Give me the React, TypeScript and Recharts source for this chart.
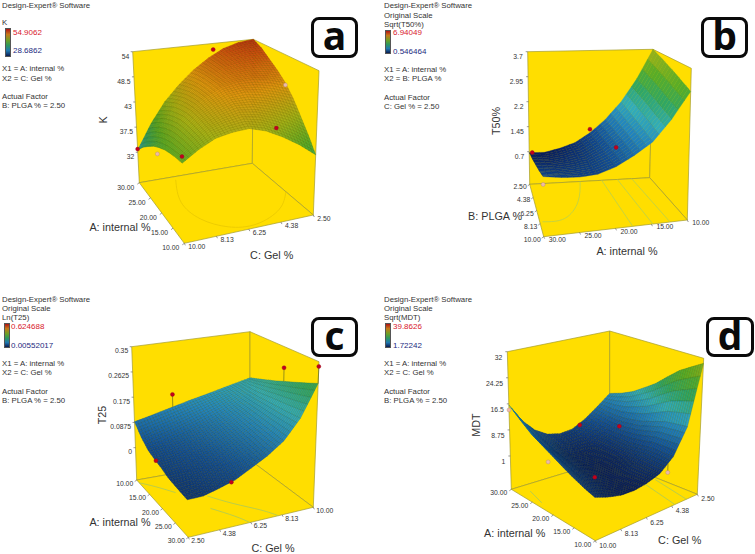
import { ScatterChart, Scatter, XAxis, YAxis } from 'recharts'

const internalDown = [30, 27.5, 25, 22.5, 20, 17.5, 15, 12.5, 10]
const internalUp = [10, 12.5, 15, 17.5, 20, 22.5, 25, 27.5, 30]
const gelDown = [10, 9.06, 8.13, 7.19, 6.25, 5.31, 4.38, 3.44, 2.5]
const gelUp = [2.5, 3.44, 4.38, 5.31, 6.25, 7.19, 8.13, 9.06, 10]
const plgaUp = [2.5, 3.44, 4.38, 5.31, 6.25, 7.19, 8.13, 9.06, 10]

// heights, one row per second-axis level
const kValues = [
  [32.5, 34.5, 36, 37.3, 38.2, 38.9, 39.3, 39.6, 39.7],
  [37.8, 39.3, 40.5, 41.3, 41.9, 42.1, 42.1, 42, 41.7],
  [42.2, 43.2, 44.1, 44.6, 44.9, 44.8, 44.4, 44, 43.3],
  [45.6, 46.3, 46.8, 47, 47, 46.5, 45.8, 45, 44],
  [48.5, 48.9, 49, 48.9, 48.6, 47.8, 46.8, 45.6, 44.3],
  [50.8, 50.7, 50.5, 50, 49.4, 48.2, 46.7, 45.1, 43.4],
  [52.6, 52, 51.4, 50.5, 49.5, 47.8, 45.9, 43.9, 41.8],
  [53.6, 52.7, 51.7, 50.4, 49, 46.9, 44.7, 42.3, 39.8],
  [54, 52.9, 51.3, 49.8, 48, 45.7, 42.9, 40.2, 37.3],
]
const t50Values = [
  [0.67, 0.74, 0.8, 0.87, 0.93, 1.0, 1.06, 1.13, 1.19],
  [0.66, 0.72, 0.78, 0.84, 0.9, 0.95, 1.01, 1.07, 1.13],
  [0.76, 0.8, 0.85, 0.89, 0.93, 0.97, 1.02, 1.06, 1.1],
  [0.91, 0.94, 0.96, 0.99, 1.02, 1.05, 1.08, 1.1, 1.13],
  [1.19, 1.2, 1.21, 1.22, 1.24, 1.25, 1.26, 1.27, 1.28],
  [1.58, 1.57, 1.57, 1.56, 1.56, 1.55, 1.54, 1.54, 1.53],
  [2.1, 2.07, 2.04, 2.0, 1.97, 1.94, 1.91, 1.87, 1.84],
  [2.8, 2.75, 2.7, 2.65, 2.6, 2.54, 2.49, 2.44, 2.39],
  [3.7, 3.62, 3.55, 3.47, 3.4, 3.32, 3.24, 3.17, 3.09],
]
const t25Values = [
  [0.09, 0.056, 0.034, 0.024, 0.017, 0.007, 0.003, 0, -0.003],
  [0.101, 0.072, 0.047, 0.036, 0.026, 0.017, 0.009, 0.003, -0.002],
  [0.113, 0.086, 0.063, 0.052, 0.042, 0.032, 0.024, 0.017, 0.011],
  [0.125, 0.101, 0.08, 0.069, 0.059, 0.049, 0.04, 0.033, 0.026],
  [0.137, 0.117, 0.099, 0.09, 0.082, 0.073, 0.065, 0.058, 0.052],
  [0.148, 0.133, 0.119, 0.111, 0.104, 0.097, 0.091, 0.085, 0.08],
  [0.16, 0.15, 0.141, 0.136, 0.132, 0.128, 0.124, 0.12, 0.117],
  [0.172, 0.171, 0.17, 0.171, 0.173, 0.174, 0.175, 0.177, 0.179],
  [0.184, 0.196, 0.208, 0.22, 0.233, 0.245, 0.257, 0.269, 0.281],
]
const mdtValues = [
  [16.2, 13.4, 10.9, 9.2, 7.6, 6, 4.6, 3.4, 2.5],
  [10.6, 8.3, 6.4, 5.2, 4.2, 3.2, 2.4, 1.7, 1.2],
  [6.8, 4.9, 3.4, 2.6, 1.9, 1.4, 1.0, 0.6, 0.3],
  [4.5, 2.8, 1.6, 1.1, 0.7, 0.6, 0.5, 0.3, 0.1],
  [3.6, 2.2, 1.1, 0.8, 0.6, 0.7, 0.9, 0.8, 0.7],
  [4, 2.8, 1.8, 1.6, 1.5, 1.8, 2.2, 2.2, 2],
  [6, 5, 4.2, 4.2, 4.3, 4.8, 5.4, 5.4, 5.4],
  [8.9, 8.5, 8.3, 8.8, 9.5, 10.7, 11.9, 12.4, 12.8],
  [12.1, 13.4, 15.1, 17.5, 20, 23.2, 26.2, 28.4, 30.5],
]

const kPoints = [
  { p1: 30, p2: 10, z: 32.7, above: true },
  { p1: 21, p2: 10, z: 36.5, above: false },
  { p1: 10, p2: 10, z: 40.9, above: true },
  { p1: 30, p2: 5, z: 52.6, above: true },
  { p1: 20, p2: 2.5, z: 47.6, above: false },
  { p1: 10, p2: 4.75, z: 43.7, above: true },
]
const t50Points = [
  { p1: 2.5, p2: 29.5, z: 0.67, above: true },
  { p1: 2.5, p2: 20, z: 1.3, above: true },
  { p1: 10, p2: 20, z: 1.77, above: true },
  { p1: 10, p2: 30, z: 1.0, above: false },
]
const t25Points = [
  { p1: 10, p2: 5, z: 0.165, above: true, base: 0.12 },
  { p1: 20, p2: 10, z: 0.279, above: true, base: 0.233 },
  { p1: 30, p2: 10, z: 0.335, above: true, base: 0.281 },
  { p1: 18, p2: 2.5, z: 0.024, above: true },
  { p1: 30, p2: 5.1, z: 0.022, above: true },
]
const mdtPoints = [
  { p1: 30, p2: 10, z: 14.7, above: false },
  { p1: 21, p2: 10, z: 5.3, above: false },
  { p1: 30, p2: 4.75, z: 4.6, above: true },
  { p1: 20, p2: 5.1, z: 10.1, above: true },
  { p1: 10, p2: 10, z: 7.8, above: true },
  { p1: 10, p2: 4.75, z: 1.4, above: false, base: 4 },
]

const kContours = [
  [[29, 7.75], [22, 8.5], [16, 8.2], [12, 7.15], [11, 5.65], [14, 3.8], [19, 2.5]],
]
const t50Contours = [
  [[2.5, 21.6], [5.5, 23.4], [7.75, 26.3], [7.9, 29.6]],
  [[2.5, 18], [10, 17.6]],
  [[2.5, 15.4], [10, 14.8]],
  [[2.5, 13], [10, 12.4]],
]
const t25Contours = [
  [[19, 5.5], [23, 6.4], [27, 7.4], [30, 7.9]],
  [[23, 5], [27, 5.8], [30, 6.2]],
  [[11, 2.5], [13, 3.2], [16, 4]],
]
const mdtContours = [
  [[19, 3.5], [10, 4.15]],
  [[19, 2.7], [10, 3.3]],
  [[28, 9.2], [24, 9.6]],
]

const internalTicks = [30, 25, 20, 15, 10]
const gelTicks = [10, 8.13, 6.25, 4.38, 2.5]
const plgaTicks = [2.5, 4.38, 6.25, 8.13, 10]
const kTicks = ['54', '48.5', '43', '37.5', '32']
const t50Ticks = ['3.7', '2.95', '2.2', '1.45', '0.7']
const t25Ticks = ['0.35', '0.2625', '0.175', '0.0875', '0']
const mdtTicks = ['32', '24.25', '16.5', '8.75', '1']

const kLegend = ['54.9062', '28.6862']
const t50Legend = ['6.94049', '0.546464']
const t25Legend = ['0.624688', '0.00552017']
const mdtLegend = ['39.8626', '1.72242']

const FONT = '"Liberation Sans", Arial, sans-serif'
const WALL = '#ffde00'
const EDGE = '#a39c2c'
const COLOR_STOPS: [number, number[]][] = [
  [0, [9, 30, 92]],
  [0.12, [18, 78, 150]],
  [0.22, [34, 132, 190]],
  [0.3, [50, 172, 186]],
  [0.4, [48, 166, 100]],
  [0.5, [88, 172, 40]],
  [0.62, [165, 178, 24]],
  [0.75, [224, 150, 16]],
  [0.88, [205, 78, 16]],
  [1, [145, 10, 16]],
]

function surfaceColor(t: number) {
  const v = Math.min(1, Math.max(0, t))
  for (let i = 1; i < COLOR_STOPS.length; i++) {
    const [t0, c0] = COLOR_STOPS[i - 1]
    const [t1, c1] = COLOR_STOPS[i]
    if (v <= t1) {
      const f = (v - t0) / (t1 - t0)
      return `rgb(${c0.map((c, k) => Math.round(c + (c1[k] - c) * f)).join(',')})`
    }
  }
  return 'rgb(145,10,16)'
}

type Pt = [number, number]
interface Box {
  floor: Pt[] // left, front, right, back
  top: Pt[]
  z: [number, number]
}

function bilinear(c: Pt[], u: number, v: number): Pt {
  const ax = c[0][0] + (c[1][0] - c[0][0]) * u
  const ay = c[0][1] + (c[1][1] - c[0][1]) * u
  const bx = c[3][0] + (c[2][0] - c[3][0]) * u
  const by = c[3][1] + (c[2][1] - c[3][1]) * u
  return [ax + (bx - ax) * v, ay + (by - ay) * v]
}

// turns data (first factor, second factor, response) into the flat x/y the chart axes take
function makeProjection(box: Box, axis1: number[], axis2: number[]) {
  const a0 = axis1[0]
  const a1 = axis1[axis1.length - 1]
  const b0 = axis2[0]
  const b1 = axis2[axis2.length - 1]
  return (p1: number, p2: number, z: number) => {
    const u = (p1 - a0) / (a1 - a0)
    const v = (p2 - b0) / (b1 - b0)
    const w = (z - box.z[0]) / (box.z[1] - box.z[0])
    const f = bilinear(box.floor, u, v)
    const t = bilinear(box.top, u, v)
    return { x: f[0] + (t[0] - f[0]) * w, y: f[1] + (t[1] - f[1]) * w }
  }
}

function Nothing() {
  return <g />
}

function polygonLine(fill: string) {
  return (p: any) => (
    <polygon
      points={p.points.map((q: any) => `${q.x},${q.y}`).join(' ')}
      fill={fill}
      stroke={EDGE}
      strokeWidth={0.7}
    />
  )
}

// draws the typed grid cell by cell, back corner first; each cell is shaded in fine strips
function surfaceLine(grid: number[][], range: number[], nu: number, nv: number, stripesOnly: boolean) {
  return (p: any) => {
    const rows = grid.length
    const cols = grid[0].length
    const pts = p.points
    const cells: [number, number][] = []
    for (let j = 0; j < rows - 1; j++) for (let i = 0; i < cols - 1; i++) cells.push([j, i])
    cells.sort((a, b) => a[1] + (rows - a[0]) - (b[1] + (rows - b[0])))
    const out: any[] = []
    cells.forEach(([j, i]) => {
      const c: Pt[] = [
        [pts[j * cols + i].x, pts[j * cols + i].y],
        [pts[j * cols + i + 1].x, pts[j * cols + i + 1].y],
        [pts[(j + 1) * cols + i + 1].x, pts[(j + 1) * cols + i + 1].y],
        [pts[(j + 1) * cols + i].x, pts[(j + 1) * cols + i].y],
      ]
      for (let s = 0; s < nu; s++) {
        for (let t = nv - 1; t >= 0; t--) {
          const us = s / nu
          const ue = (s + 1) / nu
          const vs = t / nv
          const ve = (t + 1) / nv
          const quad = [bilinear(c, us, vs), bilinear(c, ue, vs), bilinear(c, ue, ve), bilinear(c, us, ve)]
          const um = (us + ue) / 2
          const vm = (vs + ve) / 2
          const z =
            (1 - vm) * ((1 - um) * grid[j][i] + um * grid[j][i + 1]) +
            vm * ((1 - um) * grid[j + 1][i] + um * grid[j + 1][i + 1])
          const fill = surfaceColor((z - range[0]) / (range[1] - range[0]))
          const path = quad.map((q) => `${q[0].toFixed(1)},${q[1].toFixed(1)}`).join(' ')
          out.push(<polygon key={`${j}-${i}-${s}-${t}`} points={path} fill={fill} stroke={fill} strokeWidth={0.3} />)
          out.push(
            <polyline
              key={`m${j}-${i}-${s}-${t}`}
              points={stripesOnly ? `${quad[0].join(',')} ${quad[1].join(',')}` : `${path} ${quad[0].join(',')}`}
              fill="none"
              stroke="#08140c"
              strokeOpacity={stripesOnly ? 0.4 : 0.26}
              strokeWidth={0.4}
            />,
          )
        }
      }
    })
    return <g>{out}</g>
  }
}

function tickShape(dx: number, dy: number, anchor: string, markX: number, markY: number) {
  return (p: any) => (
    <g>
      <line x1={p.cx} y1={p.cy} x2={p.cx + markX} y2={p.cy + markY} stroke="#555" strokeWidth={0.6} />
      <text x={p.cx + dx} y={p.cy + dy} textAnchor={anchor} fontSize={6.8} fontFamily={FONT} fill="#333">
        {p.payload.label}
      </text>
    </g>
  )
}

function markerShape(p: any) {
  const above = p.payload.above
  return (
    <circle
      cx={p.cx}
      cy={p.cy}
      r={2}
      fill={above ? '#c4001c' : '#efb9a8'}
      stroke={above ? '#8a1020' : '#a98a78'}
      strokeWidth={0.4}
    />
  )
}

interface Text3D {
  dx: number
  dy: number
}

interface SurfacePanelProps {
  box: Box
  axis1: number[]
  axis2: number[]
  grid: number[][]
  range: number[]
  strips: number[]
  stripesOnly?: boolean
  points: any[]
  contours: number[][][]
  contourColor: string
  ticks1: number[]
  ticks2: number[]
  zLabels: string[]
  labelOffset1: Text3D
  labelOffset2: Text3D
  labelOffsetZ: Text3D
}

function SurfacePanel(props: SurfacePanelProps) {
  const { box, axis1, axis2, grid, range, strips, points, contours, contourColor } = props
  const project = makeProjection(box, axis1, axis2)
  const a0 = axis1[0]
  const a1 = axis1[axis1.length - 1]
  const b0 = axis2[0]
  const b1 = axis2[axis2.length - 1]
  const zf = box.z[0]
  const zt = box.z[1]

  const leftWall = [project(a0, b0, zf), project(a0, b1, zf), project(a0, b1, zt), project(a0, b0, zt)]
  const rightWall = [project(a0, b1, zf), project(a1, b1, zf), project(a1, b1, zt), project(a0, b1, zt)]
  const floor = [project(a0, b0, zf), project(a1, b0, zf), project(a1, b1, zf), project(a0, b1, zf)]

  const nodes = axis2.flatMap((p2, j) => axis1.map((p1, i) => project(p1, p2, grid[j][i])))
  const markers = points.map((m) => ({ ...project(m.p1, m.p2, m.z), above: m.above }))
  const stems = points.filter((m) => m.base !== undefined)

  const tickData1 = props.ticks1.map((t) => ({ ...project(t, b0, zf), label: t.toFixed(2) }))
  const tickData2 = props.ticks2.map((t) => ({ ...project(a1, t, zf), label: t.toFixed(2) }))
  const zData = props.zLabels.map((t) => ({ ...project(a0, b0, Number(t)), label: t }))

  return (
    <ScatterChart width={377} height={274} margin={{ top: 0, right: 0, bottom: 0, left: 0 }}>
      <XAxis type="number" dataKey="x" domain={[0, 377]} hide />
      <YAxis type="number" dataKey="y" domain={[0, 274]} reversed hide />
      <Scatter data={leftWall} isAnimationActive={false} shape={Nothing} line={polygonLine(WALL)} />
      <Scatter data={rightWall} isAnimationActive={false} shape={Nothing} line={polygonLine(WALL)} />
      <Scatter data={floor} isAnimationActive={false} shape={Nothing} line={polygonLine(WALL)} />
      {contours.map((c, i) => (
        <Scatter
          key={`contour-${i}`}
          data={c.map((q) => project(q[0], q[1], zf))}
          isAnimationActive={false}
          shape={Nothing}
          line={{ stroke: contourColor, strokeWidth: 0.8 }}
          lineJointType="natural"
        />
      ))}
      <Scatter
        data={nodes}
        isAnimationActive={false}
        shape={Nothing}
        line={surfaceLine(grid, range, strips[0], strips[1], !!props.stripesOnly)}
      />
      {stems.map((m, i) => (
        <Scatter
          key={`stem-${i}`}
          data={[project(m.p1, m.p2, m.z), project(m.p1, m.p2, m.base)]}
          isAnimationActive={false}
          shape={Nothing}
          line={{ stroke: '#6a7020', strokeWidth: 0.7 }}
        />
      ))}
      <Scatter data={markers} isAnimationActive={false} shape={markerShape} />
      <Scatter
        data={tickData1}
        isAnimationActive={false}
        shape={tickShape(props.labelOffset1.dx, props.labelOffset1.dy, 'end', -2, 1.5)}
      />
      <Scatter
        data={tickData2}
        isAnimationActive={false}
        shape={tickShape(props.labelOffset2.dx, props.labelOffset2.dy, 'start', 1, 2)}
      />
      <Scatter
        data={zData}
        isAnimationActive={false}
        shape={tickShape(props.labelOffsetZ.dx, props.labelOffsetZ.dy, 'end', -2, 0)}
      />
    </ScatterChart>
  )
}

function Txt({ x, y, size = 7.8, color = '#333', rotate = false, center = false, children }: any) {
  return (
    <div
      style={{
        position: 'absolute',
        left: x,
        top: y,
        fontFamily: FONT,
        fontSize: size,
        lineHeight: 1,
        color,
        whiteSpace: 'nowrap',
        transform: rotate
          ? 'translate(-50%, -50%) rotate(-90deg)'
          : center
            ? 'translate(-50%, -50%)'
            : 'translateY(-50%)',
      }}
    >
      {children}
    </div>
  )
}

function Badge({ x, y, w, h, letter }: any) {
  return (
    <div
      style={{
        position: 'absolute',
        left: x,
        top: y,
        width: w,
        height: h,
        boxSizing: 'border-box',
        border: '3px solid #0a0a0a',
        borderRadius: 8,
        background: '#fff',
        display: 'flex',
        alignItems: 'center',
        justifyContent: 'center',
        fontFamily: '"Open Sans", sans-serif',
        fontWeight: 700,
        fontSize: 39,
        lineHeight: 1,
        color: '#0a0a0a',
      }}
    >
      <span style={{ marginTop: -6 }}>{letter}</span>
    </div>
  )
}

function ColorBar({ x, y, w, h }: any) {
  return (
    <div
      style={{
        position: 'absolute',
        left: x,
        top: y,
        width: w,
        height: h,
        boxSizing: 'border-box',
        border: '0.5px solid #555',
        background: 'linear-gradient(to bottom, #b01414, #c8781a 20%, #6fa024 42%, #2f9a5a 60%, #1f78b0 80%, #0a1c52)',
      }}
    />
  )
}

function Side({ left, lines, values, bar, valueX, valueY, keyLines, footer }: any) {
  return (
    <>
      {lines.map((l: any, i: number) => (
        <Txt key={i} x={left} y={l[1]}>
          {l[0]}
        </Txt>
      ))}
      <ColorBar {...bar} />
      <Txt x={valueX} y={valueY[0]} color="#d8182c" size={8}>
        {values[0]}
      </Txt>
      <Txt x={valueX} y={valueY[1]} color="#1c2a80" size={8}>
        {values[1]}
      </Txt>
      <Txt x={left} y={keyLines[0]}>X1 = A: internal %</Txt>
      <Txt x={left} y={keyLines[1]}>{footer[0]}</Txt>
      <Txt x={left} y={keyLines[2]}>Actual Factor</Txt>
      <Txt x={left} y={keyLines[3]}>{footer[1]}</Txt>
    </>
  )
}

function Panel({ x, y, children }: any) {
  return <div style={{ position: 'absolute', left: x, top: y, width: 377, height: 274 }}>{children}</div>
}

export default function App() {
  return (
    <div style={{ position: 'fixed', left: 0, top: 0, width: 755, height: 554, background: '#fff', overflow: 'hidden' }}>
      <Panel x={0} y={0}>
        <SurfacePanel
          box={{
            floor: [[139.3, 182.7], [184.3, 243.3], [313.3, 215], [252.3, 163.3]],
            top: [[132.7, 51.7], [180, 83.3], [319, 70.7], [253.3, 39.3]],
            z: [25.35, 54],
          }}
          axis1={internalDown}
          axis2={gelDown}
          grid={kValues}
          range={[22, 56.5]}
          strips={[5, 5]}
          points={kPoints}
          contours={kContours}
          contourColor="#e9c800"
          ticks1={internalTicks}
          ticks2={gelTicks}
          zLabels={kTicks}
          labelOffset1={{ dx: -5, dy: 7 }}
          labelOffset2={{ dx: 4, dy: 5.8 }}
          labelOffsetZ={{ dx: -3.5, dy: 7 }}
        />
        <Side
          left={2}
          lines={[['Design-Expert® Software', 6], ['K', 23]]}
          bar={{ x: 5, y: 28, w: 6, h: 29 }}
          values={kLegend}
          valueX={13}
          valueY={[33, 51]}
          keyLines={[69, 79, 97, 106]}
          footer={['X2 = C: Gel %', 'B: PLGA % = 2.50']}
        />
        <Txt x={120} y={226.7} size={10.8} center>A: internal %</Txt>
        <Txt x={271.7} y={255} size={10.8} center>C: Gel %</Txt>
        <Txt x={103.3} y={120} size={10.8} rotate>K</Txt>
        <Badge x={311} y={17} w={47} h={41} letter="a" />
      </Panel>
      <Panel x={378} y={0}>
        <SurfacePanel
          box={{
            floor: [[151.7, 184.3], [165.7, 236.7], [309.3, 220], [271.7, 177.7]],
            top: [[149.7, 51.7], [164, 74], [313.3, 68.3], [275, 49.3]],
            z: [-0.279, 3.7],
          }}
          axis1={plgaUp}
          axis2={internalDown}
          grid={t50Values}
          range={[0.7, 5.5]}
          strips={[2, 3]}
          stripesOnly
          points={t50Points}
          contours={t50Contours}
          contourColor="#b9cf4e"
          ticks1={plgaTicks}
          ticks2={internalTicks}
          zLabels={t50Ticks}
          labelOffset1={{ dx: -3, dy: 5 }}
          labelOffset2={{ dx: 5, dy: 5.3 }}
          labelOffsetZ={{ dx: -5, dy: 7 }}
        />
        <Side
          left={6}
          lines={[['Design-Expert® Software', 6.3], ['Original Scale', 15.7], ['Sqrt(T50%)', 24.7]]}
          bar={{ x: 7, y: 30, w: 6, h: 24 }}
          values={t50Legend}
          valueX={15}
          valueY={[33, 52]}
          keyLines={[70, 79, 98, 107]}
          footer={['X2 = B: PLGA %', 'C: Gel % = 2.50']}
        />
        <Txt x={117} y={216} size={10.8} center>B: PLGA %</Txt>
        <Txt x={249} y={250.7} size={10.8} center>A: internal %</Txt>
        <Txt x={118} y={120.7} size={10.8} rotate>T50%</Txt>
        <Badge x={323} y={17} w={47} h={41} letter="b" />
      </Panel>
      <Panel x={0} y={280}>
        <SurfacePanel
          box={{
            floor: [[136.7, 200], [188.3, 257.3], [313.3, 227.3], [250, 180]],
            top: [[131.7, 66.7], [184, 98.3], [319, 81.7], [250, 51.7]],
            z: [-0.112, 0.35],
          }}
          axis1={internalUp}
          axis2={gelUp}
          grid={t25Values}
          range={[-0.05, 0.72]}
          strips={[5, 5]}
          points={t25Points}
          contours={t25Contours}
          contourColor="#a9c95a"
          ticks1={[...internalTicks].reverse()}
          ticks2={[...gelTicks].reverse()}
          zLabels={t25Ticks}
          labelOffset1={{ dx: -3.5, dy: 6 }}
          labelOffset2={{ dx: 3, dy: 6 }}
          labelOffsetZ={{ dx: -3.5, dy: 6.5 }}
        />
        <Side
          left={2}
          lines={[['Design-Expert® Software', 20.3], ['Original Scale', 29.3], ['Ln(T25)', 38]]}
          bar={{ x: 4, y: 43, w: 6, h: 25 }}
          values={t25Legend}
          valueX={11}
          valueY={[47, 66]}
          keyLines={[84, 93, 112, 121]}
          footer={['X2 = C: Gel %', 'B: PLGA % = 2.50']}
        />
        <Txt x={120} y={241.7} size={10.8} center>A: internal %</Txt>
        <Txt x={273} y={268} size={10.8} center>C: Gel %</Txt>
        <Txt x={101.7} y={135} size={10.8} rotate>T25</Txt>
        <Badge x={311} y={37} w={47} h={40} letter="c" />
      </Panel>
      <Panel x={378} y={280}>
        <SurfacePanel
          box={{
            floor: [[133.3, 209.3], [217.3, 260.7], [319.3, 214.3], [231.7, 179.3]],
            top: [[129.3, 71.7], [216, 105.3], [325.7, 78.3], [231.7, 51]],
            z: [-8.9, 32],
          }}
          axis1={internalDown}
          axis2={gelDown}
          grid={mdtValues}
          range={[0, 52]}
          strips={[5, 5]}
          points={mdtPoints}
          contours={mdtContours}
          contourColor="#a9c95a"
          ticks1={internalTicks}
          ticks2={gelTicks}
          zLabels={mdtTicks}
          labelOffset1={{ dx: -4, dy: 6 }}
          labelOffset2={{ dx: 4, dy: 7 }}
          labelOffsetZ={{ dx: -5, dy: 8 }}
        />
        <Side
          left={6}
          lines={[['Design-Expert® Software', 20.3], ['Original Scale', 29.3], ['Sqrt(MDT)', 38]]}
          bar={{ x: 7, y: 43, w: 6, h: 25 }}
          values={mdtLegend}
          valueX={15}
          valueY={[47, 65.7]}
          keyLines={[84, 93, 112, 121]}
          footer={['X2 = C: Gel %', 'B: PLGA % = 2.50']}
        />
        <Txt x={136.7} y={253.3} size={10.8} center>A: internal %</Txt>
        <Txt x={301.7} y={260} size={10.8} center>C: Gel %</Txt>
        <Txt x={98.3} y={145} size={10.8} rotate>MDT</Txt>
        <Badge x={328} y={37} w={48} h={40} letter="d" />
      </Panel>
    </div>
  )
}
